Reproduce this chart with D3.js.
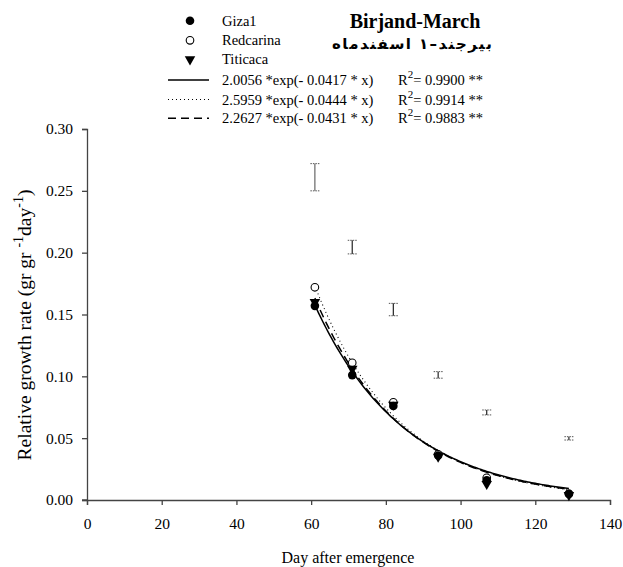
<!DOCTYPE html>
<html>
<head>
<meta charset="utf-8">
<script src="https://cdn.jsdelivr.net/npm/d3@7"></script>
<style>
  html, body { margin: 0; padding: 0; background: #fff; }
  svg { display: block; }
</style>
</head>
<body>
<svg id="chart" width="623" height="567"></svg>
<script>
// ---- data ----
const days = [61, 71, 82, 94, 107, 129];
const giza1 = [0.157, 0.101, 0.076, 0.036, 0.016, 0.005];
const redcarina = [0.172, 0.111, 0.079, 0.037, 0.018, 0.005];
const titicaca = [0.160, 0.106, 0.077, 0.035, 0.013, 0.004];
const errLow = [0.250, 0.199, 0.149, 0.0985, 0.0688, 0.0485];
const errHigh = [0.272, 0.210, 0.159, 0.1038, 0.0728, 0.0512];
const seriesNames = ["Giza1", "Redcarina", "Titicaca"];
const fitA = [2.0056, 2.5959, 2.2627];
const fitB = [0.0417, 0.0444, 0.0431];
const fitR2 = ["0.9900", "0.9914", "0.9883"];
const xTicks = [0, 20, 40, 60, 80, 100, 120, 140];
const yTicks = [0.00, 0.05, 0.10, 0.15, 0.20, 0.25, 0.30];
const titleText = "Birjand-March";
const persianText = "بیرجند–۱ اسفندماه";
const xLabel = "Day after emergence";

const SERIF = "'Liberation Serif', 'Times New Roman', Times, serif";

// ---- layout ----
const svg = d3.select("#chart");
const x = d3.scaleLinear().domain([0, 140]).range([87, 610]);
const y = d3.scaleLinear().domain([0, 0.30]).range([500, 129]);
const axisColor = "#444";

function txt(sel, size, weight) {
  return sel.style("font-family", SERIF).style("font-size", size + "px").style("font-weight", weight || "normal").style("fill", "#000");
}

// axes
const xAxis = svg.append("g").attr("transform", "translate(0,500)")
  .call(d3.axisBottom(x).tickValues(xTicks).tickFormat(d3.format("d")).tickSizeOuter(0).tickSize(5).tickPadding(13));
const yAxis = svg.append("g").attr("transform", "translate(87,0)")
  .call(d3.axisLeft(y).tickValues(yTicks).tickFormat(d3.format(".2f")).tickSizeOuter(0).tickSize(5).tickPadding(9));
[xAxis, yAxis].forEach(g => {
  g.select(".domain").attr("stroke", axisColor).attr("stroke-width", 1.3);
  g.selectAll(".tick line").attr("stroke", axisColor).attr("stroke-width", 1.3);
  txt(g.selectAll(".tick text"), 15.5);
});
svg.append("line").attr("x1", 82).attr("x2", 87).attr("y1", 500).attr("y2", 500).attr("stroke", axisColor).attr("stroke-width", 1.3);

// axis titles
txt(svg.append("text").attr("x", 348).attr("y", 563).attr("text-anchor", "middle"), 16).text(xLabel);

const yt = txt(svg.append("text").attr("transform", "translate(31,325) rotate(-90)")
  .attr("text-anchor", "middle"), 19.5);
yt.append("tspan").text("Relative growth rate (gr gr ");
yt.append("tspan").attr("dy", -8).style("font-size", "14px").text("-1");
yt.append("tspan").attr("dy", 8).text("day");
yt.append("tspan").attr("dy", -8).style("font-size", "14px").text("-1");
yt.append("tspan").attr("dy", 8).text(")");

// error bars
const eb = svg.append("g");
days.forEach((d, i) => {
  const cx = x(d), y1 = y(errHigh[i]), y2 = y(errLow[i]);
  const col = i === 0 ? "#666" : "#222";
  eb.append("line").attr("x1", cx).attr("x2", cx).attr("y1", y1).attr("y2", y2).attr("stroke", col).attr("stroke-width", 1.2);
  [y1, y2].forEach(yy => eb.append("line").attr("x1", cx - 4.5).attr("x2", cx + 4.5).attr("y1", yy).attr("y2", yy)
    .attr("stroke", "#555").attr("stroke-width", 1).attr("stroke-dasharray", "1.5,1"));
});

// fitted curves
const dashes = [null, "1,3", "8,5"];
const line = d3.line().x(d => x(d[0])).y(d => y(d[1]));
const xs = d3.range(days[0], days[days.length - 1] + 0.01, 0.5);
fitA.forEach((a, k) => {
  const pts = xs.map(v => [v, a * Math.exp(-fitB[k] * v)]);
  svg.append("path").datum(pts).attr("d", line).attr("fill", "none").attr("stroke", "#000")
    .attr("stroke-width", k === 1 ? 1.1 : 1.5).attr("stroke-dasharray", dashes[k]);
});

// markers
const tri = d3.symbol().type(d3.symbolTriangle).size(48);
function drawMarker(g, k, cx, cy) {
  if (k === 0) g.append("circle").attr("cx", cx).attr("cy", cy).attr("r", 4.3).attr("fill", "#000");
  else if (k === 1) g.append("circle").attr("cx", cx).attr("cy", cy).attr("r", 3.8).attr("fill", "#fff").attr("stroke", "#000").attr("stroke-width", 1.1);
  else g.append("path").attr("d", tri).attr("transform", `translate(${cx},${cy}) rotate(180)`).attr("fill", "#000");
}
const pg = svg.append("g");
const seriesVals = [giza1, redcarina, titicaca];
[1, 0, 2].forEach(k => days.forEach((d, i) => drawMarker(pg, k, x(d), y(seriesVals[k][i]))));

// legend: markers
const legMarkY = [20.7, 40.3, 59.3];
seriesNames.forEach((n, k) => {
  drawMarker(svg, k, 190, legMarkY[k]);
  txt(svg.append("text").attr("x", 222).attr("y", legMarkY[k] + 5), 14.5).text(n);
});

// legend: fits
const legLineY = [80, 99.5, 118.3];
fitA.forEach((a, k) => {
  svg.append("line").attr("x1", 168).attr("x2", 209).attr("y1", legLineY[k]).attr("y2", legLineY[k])
    .attr("stroke", "#000").attr("stroke-width", k === 1 ? 1 : 1.5).attr("stroke-dasharray", dashes[k]);
  txt(svg.append("text").attr("x", 222).attr("y", legLineY[k] + 5), 14.5)
    .text(`${a.toFixed(4)} *exp(- ${fitB[k].toFixed(4)} * x)`);
  const t = txt(svg.append("text").attr("x", 398).attr("y", legLineY[k] + 5), 14.5);
  t.append("tspan").text("R");
  t.append("tspan").attr("dy", -7).style("font-size", "11px").text("2");
  t.append("tspan").attr("dy", 7).text(`= ${fitR2[k]} **`);
});

// titles
txt(svg.append("text").attr("x", 415).attr("y", 28).attr("text-anchor", "middle"), 20, "bold").text(titleText);
svg.append("text").attr("x", 412).attr("y", 49).attr("text-anchor", "middle")
  .style("font-family", "'DejaVu Sans', sans-serif").style("font-size", "15px").style("font-weight", "bold")
  .attr("direction", "rtl").attr("textLength", 160).attr("lengthAdjust", "spacing").text(persianText);
</script>
</body>
</html>
